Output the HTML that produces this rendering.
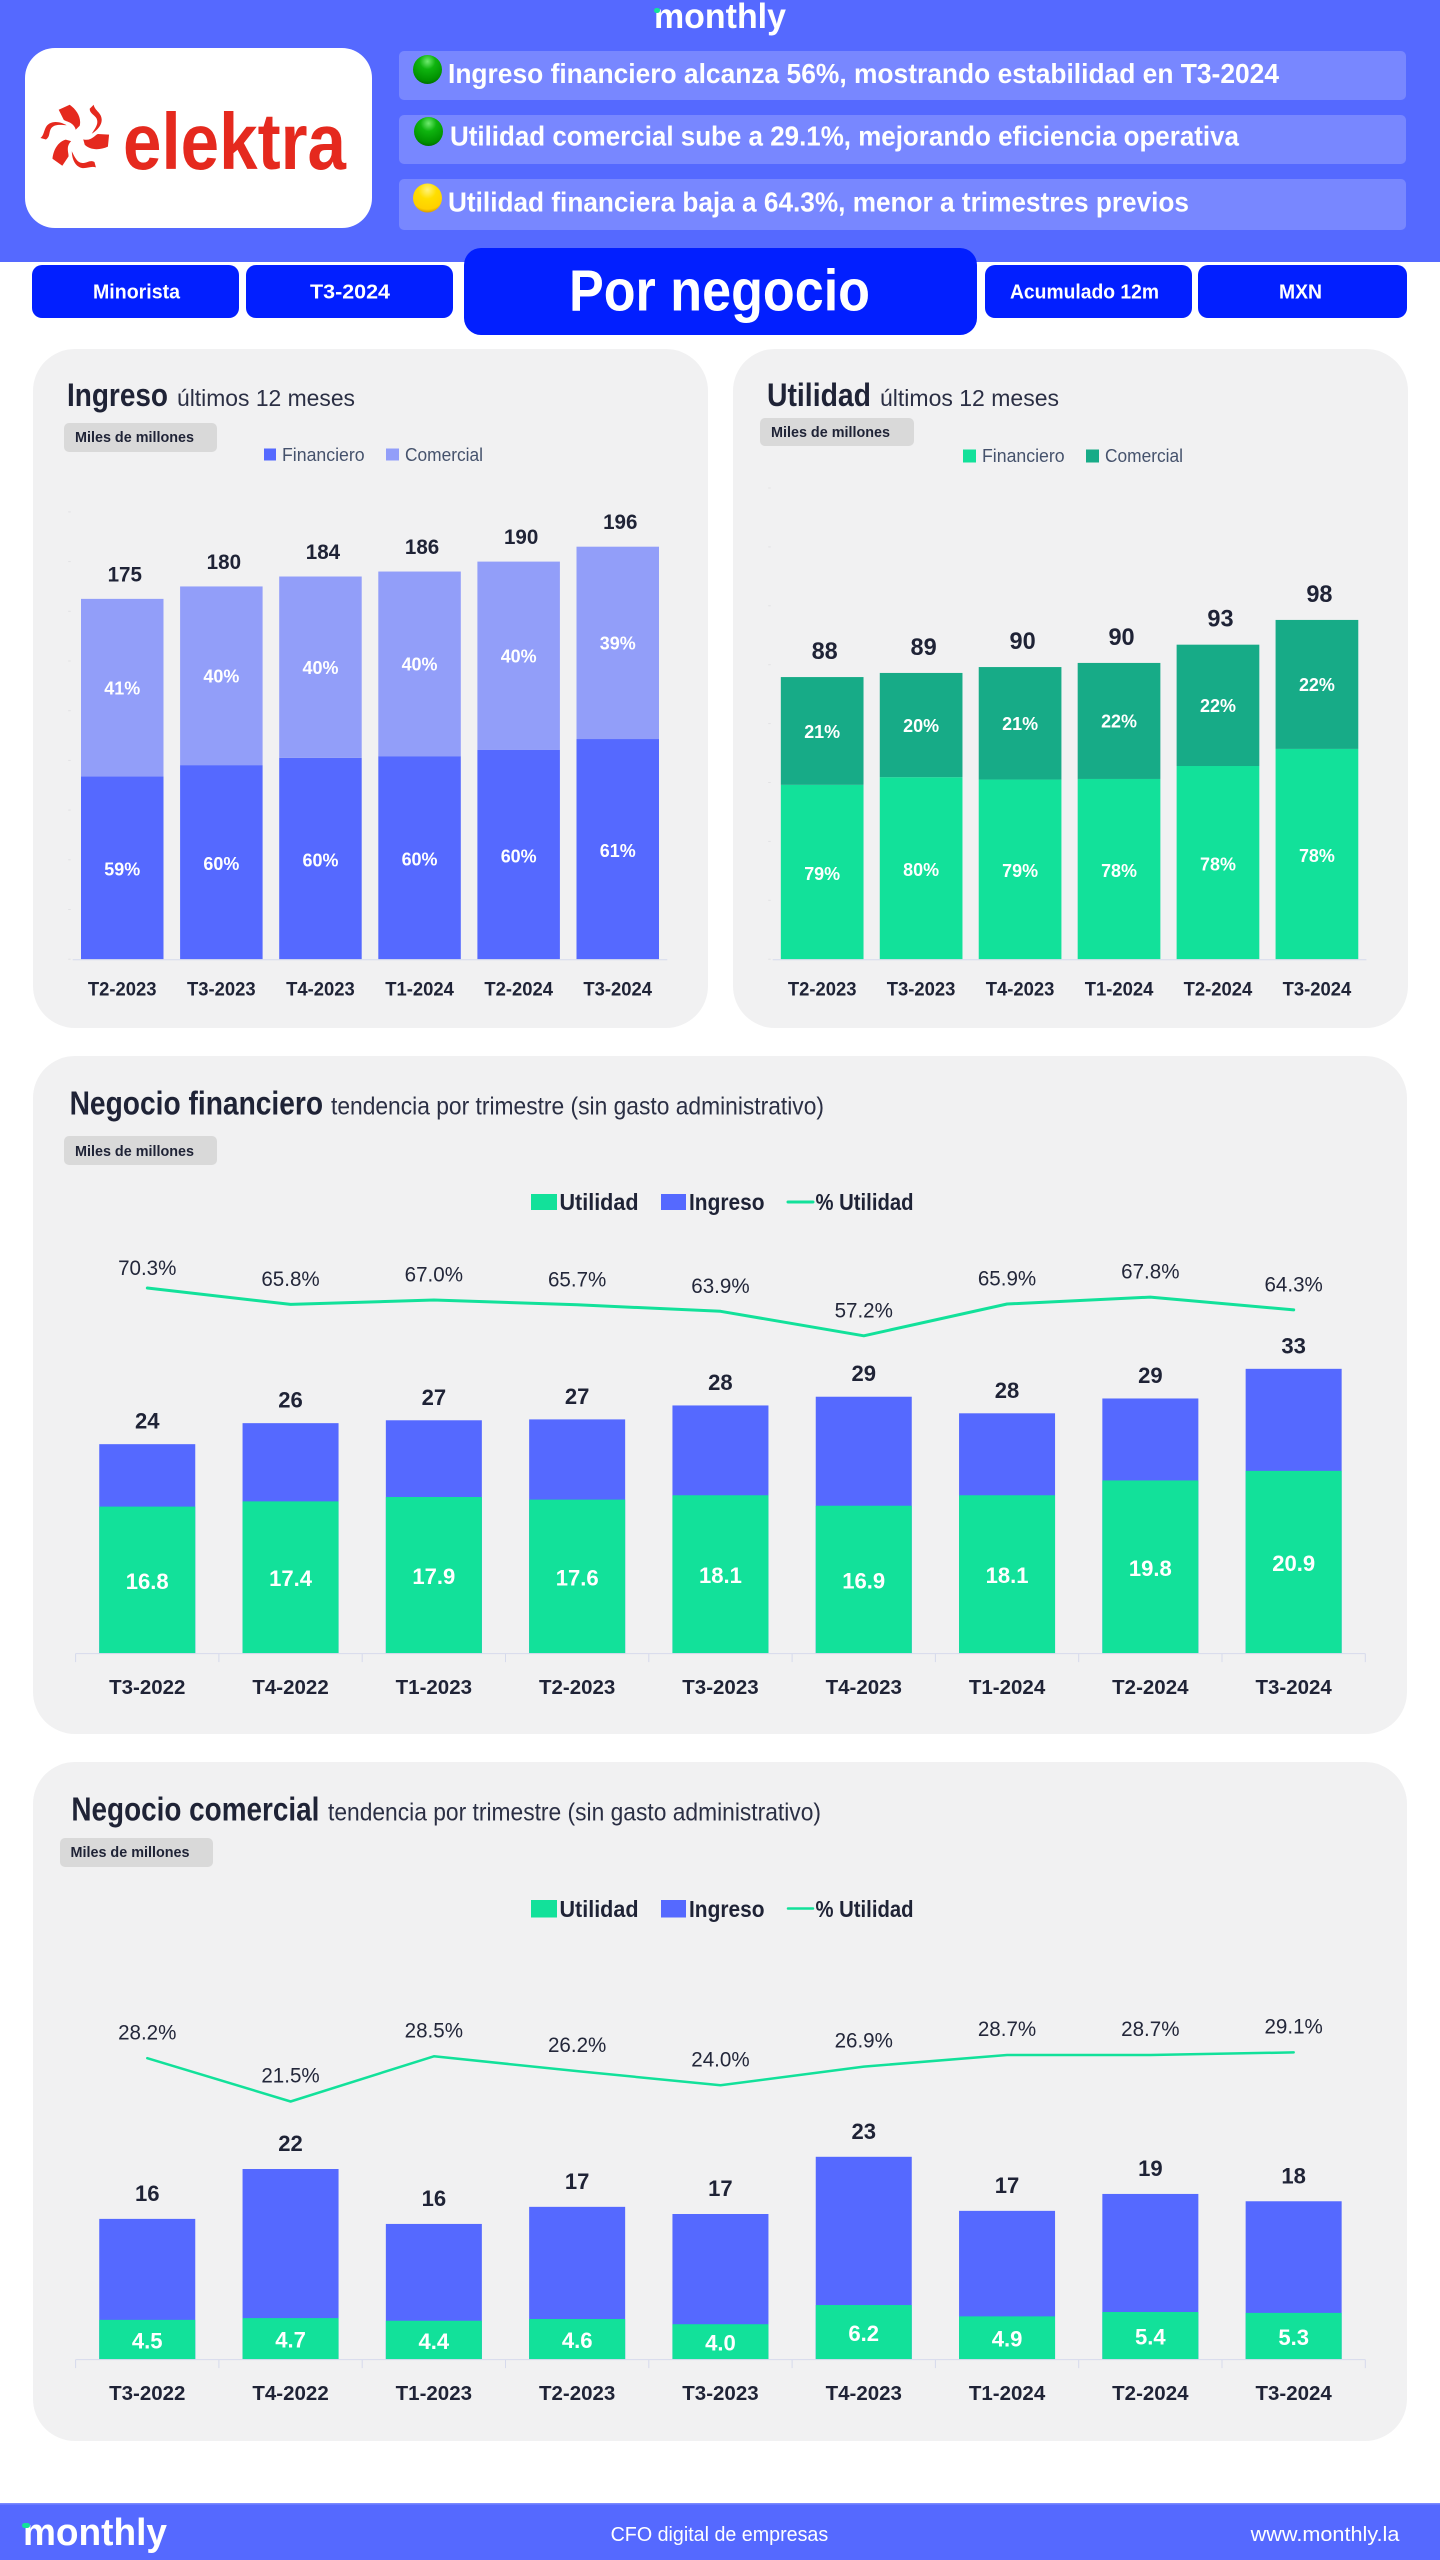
<!DOCTYPE html>
<html lang="es">
<head>
<meta charset="utf-8">
<title>Elektra - Por negocio T3-2024</title>
<style>
html,body{margin:0;padding:0;background:#fff;width:1440px;height:2560px;overflow:hidden}
svg{display:block}
text{font-family:"Liberation Sans","DejaVu Sans",sans-serif}
</style>
</head>
<body>
<svg id="page" xmlns="http://www.w3.org/2000/svg" width="1440" height="2560" viewBox="0 0 1440 2560">
  <defs>
    <radialGradient id="ballGreen" cx="50%" cy="22%" r="78%">
      <stop offset="0" stop-color="#6fea6f"/>
      <stop offset="0.35" stop-color="#0fb40f"/>
      <stop offset="0.85" stop-color="#009000"/>
      <stop offset="1" stop-color="#006f00"/>
    </radialGradient>
    <radialGradient id="ballYellow" cx="50%" cy="22%" r="78%">
      <stop offset="0" stop-color="#fff27a"/>
      <stop offset="0.4" stop-color="#ffde00"/>
      <stop offset="0.85" stop-color="#ffd000"/>
      <stop offset="1" stop-color="#d89a00"/>
    </radialGradient>
  </defs>

  <rect width="1440" height="2560" fill="#ffffff"/>

  <!-- Header -->
  <g>
    <rect width="1440" height="262" fill="#5569ff"/>
    <text x="654" y="28" font-size="35" font-weight="700" fill="#fff" textLength="132" lengthAdjust="spacingAndGlyphs">monthly</text>
    <rect x="654" y="8" width="6" height="5" rx="2.5" fill="#12e29a"/>

    <rect x="25" y="48" width="347" height="180" rx="30" fill="#fff"/>
    <g transform="translate(76.7,136.7)" fill="#e5291e">
      <path d="M-18,-27 L-7,-32 C0,-27 5,-19 3,-11 L-1,-7 C-3,-15 -11,-15 -13,-17 Z"/>
      <path d="M-18,-27 L-7,-32 C0,-27 5,-19 3,-11 L-1,-7 C-3,-15 -11,-15 -13,-17 Z" transform="rotate(120)"/>
      <path d="M-18,-27 L-7,-32 C0,-27 5,-19 3,-11 L-1,-7 C-3,-15 -11,-15 -13,-17 Z" transform="rotate(240)"/>
      <path d="M13,-28 L17,-32 C18,-26 25,-24 25,-17 C25,-11 20,-6 15,-3 C19,-9 22,-13 20,-18 C18,-22 13,-23 13,-28Z"/>
      <path d="M13,-28 L17,-32 C18,-26 25,-24 25,-17 C25,-11 20,-6 15,-3 C19,-9 22,-13 20,-18 C18,-22 13,-23 13,-28Z" transform="rotate(120)"/>
      <path d="M13,-28 L17,-32 C18,-26 25,-24 25,-17 C25,-11 20,-6 15,-3 C19,-9 22,-13 20,-18 C18,-22 13,-23 13,-28Z" transform="rotate(240)"/>
    </g>
    <text x="123" y="169" font-size="80" font-weight="700" fill="#e5291e" textLength="223" lengthAdjust="spacingAndGlyphs">elektra</text>

    <rect x="399" y="51" width="1007" height="49" rx="5" fill="#7887ff"/>
    <circle cx="427.5" cy="69.5" r="14.5" fill="url(#ballGreen)"/>
    <text x="448" y="83" font-size="28" font-weight="700" fill="#fff" textLength="831" lengthAdjust="spacingAndGlyphs">Ingreso financiero alcanza 56%, mostrando estabilidad en T3-2024</text>

    <rect x="399" y="115" width="1007" height="49" rx="5" fill="#7887ff"/>
    <circle cx="428.5" cy="131.5" r="14.5" fill="url(#ballGreen)"/>
    <text x="450" y="145.5" font-size="28" font-weight="700" fill="#fff" textLength="789" lengthAdjust="spacingAndGlyphs">Utilidad comercial sube a 29.1%, mejorando eficiencia operativa</text>

    <rect x="399" y="179" width="1007" height="51" rx="5" fill="#7887ff"/>
    <circle cx="427.5" cy="198" r="14.5" fill="url(#ballYellow)"/>
    <text x="448" y="211.5" font-size="28" font-weight="700" fill="#fff" textLength="741" lengthAdjust="spacingAndGlyphs">Utilidad financiera baja a 64.3%, menor a trimestres previos</text>
  </g>

  <!-- Pills -->
  <g>
    <rect x="32" y="265" width="207" height="53" rx="10" fill="#021fff"/>
    <text x="93" y="298.5" font-size="20.5" font-weight="700" fill="#fff" textLength="87" lengthAdjust="spacingAndGlyphs">Minorista</text>
    <rect x="246" y="265" width="207" height="53" rx="10" fill="#021fff"/>
    <text x="310" y="298.5" font-size="20.5" font-weight="700" fill="#fff" textLength="80" lengthAdjust="spacingAndGlyphs">T3-2024</text>
    <rect x="464" y="248" width="513" height="87" rx="17" fill="#021fff"/>
    <text x="569" y="310.5" font-size="58" font-weight="700" fill="#fff" textLength="301" lengthAdjust="spacingAndGlyphs">Por negocio</text>
    <rect x="985" y="265" width="207" height="53" rx="10" fill="#021fff"/>
    <text x="1010" y="298.5" font-size="20.5" font-weight="700" fill="#fff" textLength="149" lengthAdjust="spacingAndGlyphs">Acumulado 12m</text>
    <rect x="1198" y="265" width="209" height="53" rx="10" fill="#021fff"/>
    <text x="1279" y="298.5" font-size="20.5" font-weight="700" fill="#fff" textLength="43" lengthAdjust="spacingAndGlyphs">MXN</text>
  </g>

  <!-- Cards -->
  <rect x="33" y="349" width="675" height="679" rx="42" fill="#f1f1f2"/>
  <rect x="733" y="349" width="675" height="679" rx="42" fill="#f1f1f2"/>
  <rect x="33" y="1056" width="1374" height="678" rx="42" fill="#f1f1f2"/>
  <rect x="33" y="1762" width="1374" height="679" rx="42" fill="#f1f1f2"/>

  <!-- Ingreso heading -->
  <text x="67" y="406" font-size="32" font-weight="700" fill="#1f2336" textLength="101" lengthAdjust="spacingAndGlyphs">Ingreso</text>
  <text x="177" y="406" font-size="23.5" fill="#2b2f44" textLength="178" lengthAdjust="spacingAndGlyphs">últimos 12 meses</text>
  <rect x="64" y="423" width="153" height="29" rx="5" fill="#d9d9d9"/>
  <text x="75" y="442" font-size="15" font-weight="700" fill="#1f2336" textLength="119" lengthAdjust="spacingAndGlyphs">Miles de millones</text>
  <g>
    <rect x="264" y="448.5" width="12" height="12" fill="#5569ff"/>
    <text x="282" y="461" font-size="18" fill="#45526c" textLength="82.6" lengthAdjust="spacingAndGlyphs">Financiero</text>
  </g>
  <g>
    <rect x="386" y="448.5" width="13" height="12" fill="#929ef9"/>
    <text x="405" y="461" font-size="18" fill="#45526c" textLength="78" lengthAdjust="spacingAndGlyphs">Comercial</text>
  </g>

  <!-- Utilidad heading -->
  <text x="767" y="406" font-size="32" font-weight="700" fill="#1f2336" textLength="104" lengthAdjust="spacingAndGlyphs">Utilidad</text>
  <text x="880" y="406" font-size="23.5" fill="#2b2f44" textLength="179" lengthAdjust="spacingAndGlyphs">últimos 12 meses</text>
  <rect x="760" y="418" width="154" height="28" rx="5" fill="#d9d9d9"/>
  <text x="771" y="437" font-size="15" font-weight="700" fill="#1f2336" textLength="119" lengthAdjust="spacingAndGlyphs">Miles de millones</text>
  <g>
    <rect x="963" y="449.5" width="13" height="13" fill="#12e19a"/>
    <text x="982" y="462" font-size="18" fill="#45526c" textLength="82.6" lengthAdjust="spacingAndGlyphs">Financiero</text>
  </g>
  <g>
    <rect x="1086" y="449.5" width="13" height="13" fill="#17ab87"/>
    <text x="1105" y="462" font-size="18" fill="#45526c" textLength="78" lengthAdjust="spacingAndGlyphs">Comercial</text>
  </g>

  <!-- Negocio financiero heading -->
  <text x="69.6" y="1114.7" font-size="33" font-weight="700" fill="#1f2336" textLength="253.5" lengthAdjust="spacingAndGlyphs">Negocio financiero</text>
  <text x="331" y="1114.7" font-size="25" fill="#2b2f44" textLength="493" lengthAdjust="spacingAndGlyphs">tendencia por trimestre (sin gasto administrativo)</text>
  <rect x="64" y="1136" width="153" height="29" rx="5" fill="#d9d9d9"/>
  <text x="75" y="1156" font-size="15" font-weight="700" fill="#1f2336" textLength="119" lengthAdjust="spacingAndGlyphs">Miles de millones</text>
  <g>
    <rect x="531" y="1194" width="26" height="16" fill="#12e19a"/>
    <text x="559.5" y="1210" font-size="23" font-weight="700" fill="#1f2336" textLength="79" lengthAdjust="spacingAndGlyphs">Utilidad</text>
  </g>
  <g>
    <rect x="661" y="1194" width="25" height="16" fill="#5569ff"/>
    <text x="689" y="1210" font-size="23" font-weight="700" fill="#1f2336" textLength="75.5" lengthAdjust="spacingAndGlyphs">Ingreso</text>
  </g>
  <g>
    <line x1="788" y1="1202" x2="813" y2="1202" stroke="#12e19a" stroke-width="3" stroke-linecap="round"/>
    <text x="815.5" y="1210" font-size="23" font-weight="700" fill="#1f2336" textLength="98" lengthAdjust="spacingAndGlyphs">% Utilidad</text>
  </g>

  <!-- Negocio comercial heading -->
  <text x="71.4" y="1820.3" font-size="33" font-weight="700" fill="#1f2336" textLength="248" lengthAdjust="spacingAndGlyphs">Negocio comercial</text>
  <text x="328" y="1820.3" font-size="25" fill="#2b2f44" textLength="493" lengthAdjust="spacingAndGlyphs">tendencia por trimestre (sin gasto administrativo)</text>
  <rect x="60" y="1838" width="153" height="29" rx="5" fill="#d9d9d9"/>
  <text x="70.5" y="1857" font-size="15" font-weight="700" fill="#1f2336" textLength="119" lengthAdjust="spacingAndGlyphs">Miles de millones</text>
  <g>
    <rect x="531" y="1900" width="26" height="17.5" fill="#12e19a"/>
    <text x="559.5" y="1917" font-size="23" font-weight="700" fill="#1f2336" textLength="79" lengthAdjust="spacingAndGlyphs">Utilidad</text>
  </g>
  <g>
    <rect x="661" y="1900" width="25" height="17.5" fill="#5569ff"/>
    <text x="689" y="1917" font-size="23" font-weight="700" fill="#1f2336" textLength="75.5" lengthAdjust="spacingAndGlyphs">Ingreso</text>
  </g>
  <g>
    <line x1="788" y1="1908.5" x2="813" y2="1908.5" stroke="#12e19a" stroke-width="2.5" stroke-linecap="round"/>
    <text x="815.5" y="1917" font-size="23" font-weight="700" fill="#1f2336" textLength="98" lengthAdjust="spacingAndGlyphs">% Utilidad</text>
  </g>

  <g id="chart-ingreso"></g>
  <g id="chart-utilidad"></g>
  <g id="chart-financiero"></g>
  <g id="chart-comercial"></g>

  <!-- Footer -->
  <g>
    <rect x="0" y="2503" width="1440" height="57" fill="#5569ff"/>
    <rect x="0" y="2503" width="1440" height="1.5" fill="#7a89ff"/>
    <text x="23" y="2545" font-size="38" font-weight="700" fill="#fff" textLength="144" lengthAdjust="spacingAndGlyphs">monthly</text>
    <rect x="22" y="2523" width="8" height="5" rx="2.5" fill="#12e29a"/>
    <text x="610.6" y="2541" font-size="20" fill="#fff" textLength="217.6" lengthAdjust="spacingAndGlyphs">CFO digital de empresas</text>
    <text x="1250.7" y="2541" font-size="20" fill="#fff" textLength="148.7" lengthAdjust="spacingAndGlyphs">www.monthly.la</text>
  </g>
</svg>

<script>
// ---- Data: Ingreso, últimos 12 meses ----
const ingresoCategories = ['T2-2023','T3-2023','T4-2023','T1-2024','T2-2024','T3-2024'];
const ingresoFinanciero = [103.6,108.1,111,111.7,114.3,118.6];
const ingresoComercial = [71.4,71.9,73,74.3,75.7,77.4];
const ingresoAxisTicks = [30,50,70,90,110,130,150,170,190,210];

// ---- Data: Utilidad, últimos 12 meses ----
const utilidadCategories = ['T2-2023','T3-2023','T4-2023','T1-2024','T2-2024','T3-2024'];
const utilidadFinanciero = [69.6,70.9,70.5,70.6,72.8,75.7];
const utilidadComercial = [18.3,17.7,19.1,19.7,20.6,21.9];
const utilidadAxisTicks = [40,50,60,70,80,90,100,110,120];

// ---- Data: Negocio financiero ----
const financieroCategories = ['T3-2022','T4-2022','T1-2023','T2-2023','T3-2023','T4-2023','T1-2024','T2-2024','T3-2024'];
const financieroIngreso = [23.96,26.37,26.7,26.8,28.4,29.4,27.5,29.2,32.6];
const financieroUtilidad = [16.8,17.4,17.9,17.6,18.1,16.9,18.1,19.8,20.9];
const financieroMargen = [70.3,65.8,67.0,65.7,63.9,57.2,65.9,67.8,64.3];

// ---- Data: Negocio comercial ----
const comercialCategories = ['T3-2022','T4-2022','T1-2023','T2-2023','T3-2023','T4-2023','T1-2024','T2-2024','T3-2024'];
const comercialIngreso = [16.08,21.8,15.5,17.46,16.64,23.2,17.0,18.94,18.1];
const comercialUtilidad = [4.5,4.7,4.4,4.6,4.0,6.2,4.9,5.4,5.3];
const comercialMargen = [28.2,21.5,28.5,26.2,24.0,26.9,28.7,28.7,29.1];

const SVG_NS = 'http://www.w3.org/2000/svg';
const DARK = '#1f2336';
const AXIS = '#d6daec';

function makeRect(parent, x, y, w, h, fill) {
  const el = document.createElementNS(SVG_NS, 'rect');
  el.setAttribute('x', x);
  el.setAttribute('y', y);
  el.setAttribute('width', w);
  el.setAttribute('height', h);
  el.setAttribute('fill', fill);
  parent.appendChild(el);
  return el;
}
function makeLine(parent, x1, y1, x2, y2, stroke) {
  const el = document.createElementNS(SVG_NS, 'line');
  el.setAttribute('x1', x1);
  el.setAttribute('y1', y1);
  el.setAttribute('x2', x2);
  el.setAttribute('y2', y2);
  el.setAttribute('stroke', stroke);
  el.setAttribute('stroke-width', 1);
  parent.appendChild(el);
  return el;
}
function makeText(parent, x, y, str, size, weight, fill, squeeze) {
  const el = document.createElementNS(SVG_NS, 'text');
  el.setAttribute('x', x);
  el.setAttribute('y', y);
  el.setAttribute('font-size', size);
  el.setAttribute('font-weight', weight);
  el.setAttribute('fill', fill);
  el.setAttribute('text-anchor', 'middle');
  el.textContent = str;
  parent.appendChild(el);
  const len = el.getComputedTextLength();
  if (len > 0 && squeeze !== 1) {
    el.setAttribute('textLength', (len * squeeze).toFixed(2));
    el.setAttribute('lengthAdjust', 'spacingAndGlyphs');
  }
  return el;
}

function drawStacked(root, cats, lower, upper, ticks, cfg) {
  const x = i => cfg.left + cfg.band * (i + 0.5);
  const y = v => cfg.base - (v - cfg.min) * cfg.scale;

  ticks.forEach(t => {
    const tick = makeLine(root, cfg.left - 4.5, y(t), cfg.left - 2, y(t), '#e2e2e4');
    
    
  });

  cats.forEach((c, i) => {
    const total = lower[i] + upper[i];
    const lowerBar = makeRect(root, x(i) - cfg.barW / 2, y(lower[i]), cfg.barW, cfg.base - y(lower[i]), cfg.lowerColor);
    
    
    const upperBar = makeRect(root, x(i) - cfg.barW / 2, y(total), cfg.barW, y(lower[i]) - y(total), cfg.upperColor);
    
    

    const lowerLabel = makeText(root, x(i), (y(lower[i]) + cfg.base) / 2 + 1 + 6.8, Math.round(lower[i] / total * 100) + '%', 18.5, 700, '#fff', 0.97);
    
    
    const upperLabel = makeText(root, x(i), (y(total) + y(lower[i])) / 2 + 6.8, Math.round(upper[i] / total * 100) + '%', 18.5, 700, '#fff', 0.97);
    
    

    const totalLabel = makeText(root, x(i) + 2.5, y(total) - cfg.totalGap, String(Math.round(total)), cfg.totalSize, 700, DARK, 0.98);
    
    

    const catLabel = makeText(root, x(i), 995.4, c, 19, 700, DARK, 0.97);
    
    
  });

  const axis = makeLine(root, cfg.left, cfg.base + 0.5, cfg.left + cfg.band * cats.length, cfg.base + 0.5, AXIS);
  
  
}

function drawCombo(root, cats, ingreso, utilidad, margen, cfg) {
  const x = i => cfg.left + cfg.band * (i + 0.5);
  const y = v => cfg.base - v * cfg.scale;
  const yLine = v => cfg.lineRefY - (v - cfg.lineRef) * cfg.lineScale;

  cats.forEach((c, i) => {
    const ingresoBar = makeRect(root, x(i) - cfg.barW / 2, y(ingreso[i]), cfg.barW, cfg.base - y(ingreso[i]), '#5569ff');
    
    
    const utilidadBar = makeRect(root, x(i) - cfg.barW / 2, y(utilidad[i]), cfg.barW, cfg.base - y(utilidad[i]), '#12e19a');
    
    

    const utilLabel = makeText(root, x(i), (y(utilidad[i]) + cfg.base) / 2 + 1 + 8, utilidad[i].toFixed(1), 22.5, 700, '#fff', 0.98);
    
    
    const ingresoLabel = makeText(root, x(i), y(ingreso[i]) - cfg.totalGap, String(Math.round(ingreso[i])), 22.5, 700, DARK, 0.98);
    
    
    const catLabel = makeText(root, x(i), cfg.labelY, c, 20.5, 700, DARK, 1);
    
    
  });

  const axis = makeLine(root, cfg.left, cfg.base + 0.5, cfg.left + cfg.band * cats.length, cfg.base + 0.5, AXIS);
  
  
  for (let i = 0; i <= cats.length; i++) {
    const tick = makeLine(root, cfg.left + cfg.band * i, cfg.base + 0.5, cfg.left + cfg.band * i, cfg.base + 9, AXIS);
    
    
  }

  const path = document.createElementNS(SVG_NS, 'polyline');
  path.setAttribute('points', margen.map((m, i) => x(i).toFixed(1) + ',' + yLine(m).toFixed(1)).join(' '));
  path.setAttribute('fill', 'none');
  path.setAttribute('stroke', '#12e19a');
  path.setAttribute('stroke-width', cfg.lineWidth);
  path.setAttribute('stroke-linecap', 'round');
  path.setAttribute('stroke-linejoin', 'round');
  
  
  root.appendChild(path);

  for (let i = 0; i < margen.length; i++) {
    const centerY = Math.max(yLine(margen[i]) - cfg.lineGap, cfg.lineLabelTop);
    const pct = makeText(root, x(i), centerY + 7.6, margen[i].toFixed(1) + '%', 21, 400, '#23273a', 0.98);
    
    
  }
}

drawStacked(document.getElementById('chart-ingreso'), ingresoCategories, ingresoFinanciero, ingresoComercial, ingresoAxisTicks, {
  left: 72.7, band: 99.1, barW: 82.5, base: 959.2, min: 30, scale: 2.485,
  lowerColor: '#5569ff', upperColor: '#929ef9', totalGap: 17.5, totalSize: 21
});
drawStacked(document.getElementById('chart-utilidad'), utilidadCategories, utilidadFinanciero, utilidadComercial, utilidadAxisTicks, {
  left: 772.7, band: 98.95, barW: 82.7, base: 959.2, min: 40, scale: 5.89,
  lowerColor: '#12e19a', upperColor: '#17ab87', totalGap: 18, totalSize: 24
});
drawCombo(document.getElementById('chart-financiero'), financieroCategories, financieroIngreso, financieroUtilidad, financieroMargen, {
  left: 75.6, band: 143.3, barW: 96, base: 1653.1, scale: 8.72, labelY: 1694,
  lineRef: 70.3, lineRefY: 1288, lineScale: 3.647, lineWidth: 3, lineGap: 26, lineLabelTop: 1267.4, totalGap: 15.5
});
drawCombo(document.getElementById('chart-comercial'), comercialCategories, comercialIngreso, comercialUtilidad, comercialMargen, {
  left: 75.6, band: 143.3, barW: 96, base: 2359.1, scale: 8.72, labelY: 2400,
  lineRef: 28.2, lineRefY: 2058.2, lineScale: 6.46, lineWidth: 2.5, lineGap: 26.5, lineLabelTop: 0, totalGap: 18
});
</script>
</body>
</html>
